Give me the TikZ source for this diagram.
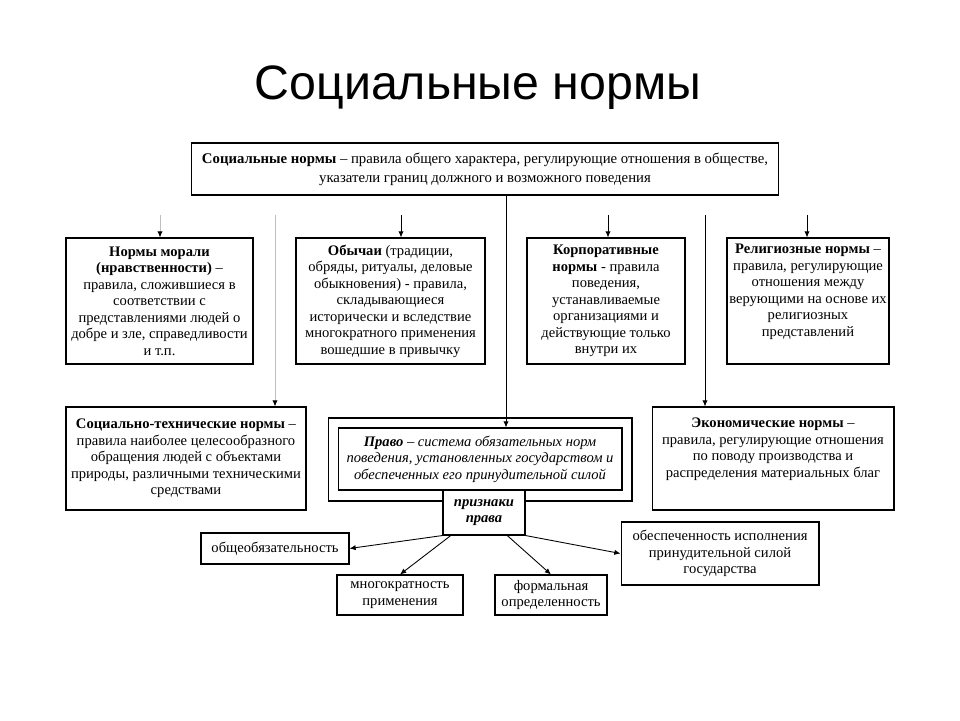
\documentclass[tikz,border=0pt]{standalone}
\usepackage{fontspec}
\setmainfont{Liberation Serif}
\newfontfamily\titlefont{Liberation Sans}
\usetikzlibrary{arrows.meta,calc}

\begin{document}
\begin{tikzpicture}[x=0.02cm, y=-0.02cm, font=\fontsize{8.3}{9.4}\selectfont,
		box/.style={rectangle, draw, fill=white, line width=0.6pt, align=center, inner sep=1pt},
		arr/.style={line width=0.5pt, -{Latex[length=3.5pt,width=3pt]}},
		faint/.style={line width=0.5pt, draw=black!25, -{Latex[length=3.5pt,width=3pt,color=black]}}]
	\useasboundingbox (0,0) rectangle (960,720);
	\node[font=\titlefont\fontsize{27.5}{30}\selectfont] (title) at (478,88) {Социальные нормы};

	% top level
	\node[box, minimum width=11.76cm, minimum height=1.04cm, font=\fontsize{8.4}{10.8}\selectfont] (top) at (485,169) {\textbf{Социальные нормы} – правила общего характера, регулирующие отношения в обществе,\\ указатели границ должного и возможного поведения};

	% first row
	\node[box, minimum width=3.74cm, minimum height=2.52cm] (mor) at (159.5,301) {\textbf{Нормы морали}\\ \textbf{(нравственности)} –\\ правила, сложившиеся в\\ соответствии с\\ представлениями людей о\\ добре и зле, справедливости\\ и т.п.};
	\node[box, minimum width=3.78cm, minimum height=2.52cm] (obych) at (390.5,301) {\textbf{Обычаи} (традиции,\\ обряды, ритуалы, деловые\\ обыкновения) - правила,\\ складывающиеся\\ исторически и вследствие\\ многократного применения\\ вошедшие в привычку};
	\node[box, minimum width=3.16cm, minimum height=2.52cm] (korp) at (606,301) {\textbf{Корпоративные}\\ \textbf{нормы} - правила\\ поведения,\\ устанавливаемые\\ организациями и\\ действующие только\\ внутри их};
	\node[box, minimum width=3.24cm, minimum height=2.52cm] (relig) at (808,301) {\textbf{Религиозные нормы} –\\ правила, регулирующие\\ отношения между\\ верующими на основе их\\ религиозных\\ представлений\\ \strut};

	% second row
	\node[box, minimum width=4.8cm, minimum height=2.06cm] (tech) at (186,458.5) {\textbf{Социально-технические нормы} –\\ правила наиболее целесообразного\\ обращения людей с объектами\\ природы, различными техническими\\ средствами};
	\node[box, minimum width=4.84cm, minimum height=2.06cm] (econ) at (773,458.5) {\textbf{Экономические нормы} –\\ правила, регулирующие отношения\\ по поводу производства и\\ распределения материальных благ\\ \strut};
	\node[box, minimum width=6.08cm, minimum height=1.66cm] (pravoout) at (480,459.5) {};
	\node[box, minimum width=5.68cm, minimum height=1.24cm, font=\fontsize{8.3}{9.4}\selectfont\itshape] (pravo) at (480,459) {\textbf{Право} – система обязательных норм\\ поведения, установленных государством и\\ обеспеченных его принудительной силой};

	% features of law
	\node[box, minimum width=2.96cm, minimum height=0.62cm] (obsh) at (275,548.5) {общеобязательность};
	\node[box, minimum width=2.52cm, minimum height=0.8cm] (mnog) at (400,595) {многократность\\ применения};
	\node[box, minimum width=2.24cm, minimum height=0.8cm] (form) at (551,595) {формальная\\ определенность};
	\node[box, minimum width=3.96cm, minimum height=1.26cm] (obesp) at (720,553.5) {обеспеченность исполнения\\ принудительной силой\\ государства};

	% connectors
	\coordinate (cx) at (506,0);
	\draw[arr] (top.south -| cx) -- (pravo.north -| cx);
	\foreach \x/\n in {401/obych, 608/korp, 807/relig, 705/econ}
		\draw[arr] (\x,215) coordinate (s\n) -- (s\n |- \n.north);
	\foreach \x/\n in {160/mor, 275/tech}
		\draw[faint] (\x,215) coordinate (s\n) -- (s\n |- \n.north);

	\node[box, minimum width=1.64cm, minimum height=0.9cm, font=\fontsize{8.3}{9.4}\selectfont\bfseries\itshape] (prizn) at (484,512.5) {признаки\\ права};
	\draw[arr] (prizn.south west) -- (obsh.east);
	\draw[arr] ($(prizn.south west)!0.1!(prizn.south east)$) -- (mnog.north);
	\draw[arr] ($(prizn.south west)!0.78!(prizn.south east)$) -- (form.north);
	\draw[arr] (prizn.south east) -- (obesp.west);
\end{tikzpicture}
\end{document}
